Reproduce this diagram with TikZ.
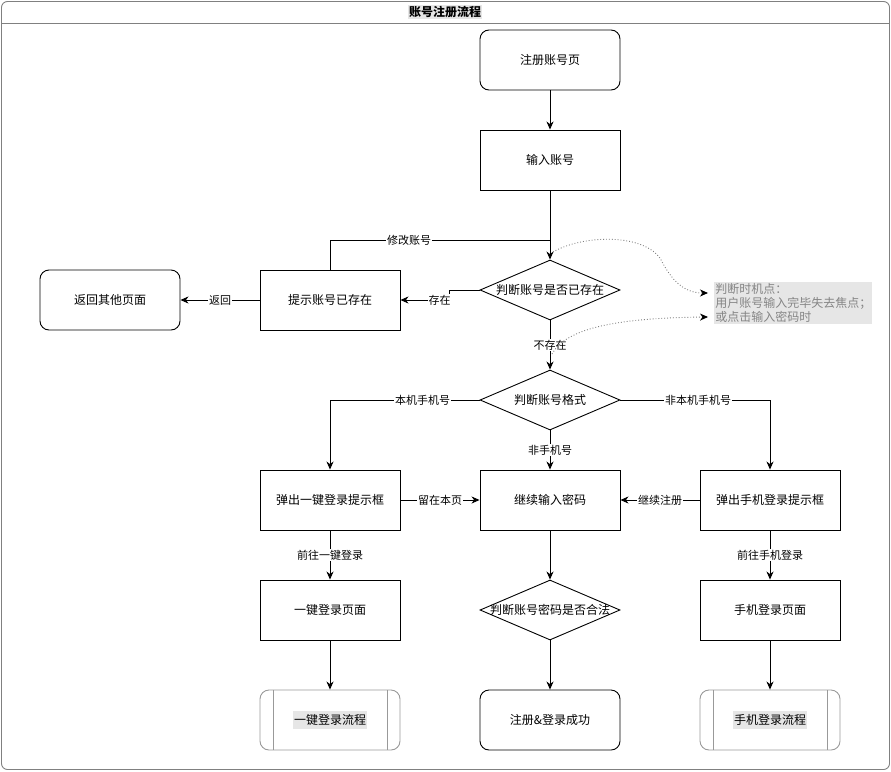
\documentclass[tikz,border=0pt]{standalone}
\usepackage{fontspec}
\usepackage{mathtools}
\setmainfont{Noto Sans CJK SC}
\usetikzlibrary{shapes.geometric,arrows.meta}
\definecolor{framegray}{HTML}{808080}
\definecolor{procgray}{HTML}{999999}
\definecolor{notebg}{HTML}{E6E6E6}
\definecolor{notetext}{HTML}{858585}
\begin{document}
\begin{tikzpicture}[x=1pt,y=-1pt,line width=0.9pt,font=\fontsize{12}{14}\selectfont,
  stepbox/.style={draw,minimum width=140pt,minimum height=60pt,inner sep=0pt},
  termbox/.style={stepbox,rounded corners=9pt},
  decision/.style={draw,diamond,aspect=2.33,minimum width=140pt,minimum height=60pt,inner sep=0pt},
  subproc/.style={stepbox,draw=procgray,rounded corners=9pt,
    path picture={\draw[procgray] ([xshift=13pt]path picture bounding box.north west) -- ([xshift=13pt]path picture bounding box.south west)
      ([xshift=-13pt]path picture bounding box.north east) -- ([xshift=-13pt]path picture bounding box.south east);}},
  arr/.style={-{Stealth[length=8pt,width=7pt,inset=2.5pt]}},
  lbl/.style={fill=white,inner sep=1pt,font=\fontsize{11}{13}\selectfont},
  hint/.style={draw=framegray,dotted,-{Stealth[length=8pt,width=7pt,inset=2.5pt,color=black,line width=0.9pt]}}]
\useasboundingbox (0,0) rectangle (891,771);
\node[draw=framegray,rounded corners=6pt,minimum width=888pt,minimum height=768pt] (pool) at (445.5,385.5) {};
\draw[framegray] (pool.west |- 0,23) -- (pool.east |- 0,23);
\node[fill=notebg,inner sep=1pt,font=\bfseries\fontsize{12}{14}\selectfont] (title) at (445,12) {账号注册流程};

\node[termbox] (reg) at (550,60) {注册账号页};
\node[stepbox] (inacc) at (550,160) {输入账号};
\node[decision] (chkexist) at (550,290) {\clap{判断账号是否已存在}};
\node[stepbox] (tipexist) at (330,300) {提示账号已存在};
\node[termbox] (back) at (110,300) {返回其他页面};
\node[decision] (chkfmt) at (550,400) {\clap{判断账号格式}};
\node[stepbox] (popone) at (330,500) {弹出一键登录提示框};
\node[stepbox] (pwd) at (550,500) {继续输入密码};
\node[stepbox] (popmob) at (770,500) {弹出手机登录提示框};
\node[stepbox] (onepage) at (330,610) {一键登录页面};
\node[decision] (chkpwd) at (550,610) {\clap{判断账号密码是否合法}};
\node[stepbox] (mobpage) at (770,610) {手机登录页面};
\node[subproc] (oneflow) at (330,720) {\colorbox{notebg}{\hspace{-2pt}一键登录流程\hspace{-2pt}}};
\node[termbox] (done) at (550,720) {注册\&登录成功};
\node[subproc] (mobflow) at (770,720) {\colorbox{notebg}{\hspace{-2pt}手机登录流程\hspace{-2pt}}};
\node[fill=notebg,text=notetext,align=left,anchor=north west,inner sep=1pt] (note) at (714,282) {判断时机点：\\用户账号输入完毕失去焦点；\\或点击输入密码时};

\coordinate (joinA) at (550,240);
\coordinate (hookA) at (553,252);
\coordinate (hookB) at (552,354);

\draw[arr] (reg) -- (inacc);
\draw[arr] (inacc) -- (chkexist);
\draw (tipexist.north) |- (joinA) node[lbl,pos=0.68] {修改账号};
\draw[arr] (chkexist.west) -- ++(-30,0) |- (tipexist.east) node[lbl,pos=0.6] {存在};
\draw[arr] (tipexist) -- node[lbl] {返回} (back);
\draw[arr] (chkexist) -- node[lbl] {不存在} (chkfmt);
\draw[arr] (chkfmt.west) -| (popone.north) node[lbl,pos=0.19] {本机手机号};
\draw[arr] (chkfmt.east) -| (popmob.north) node[lbl,pos=0.26] {非本机手机号};
\draw[arr] (chkfmt) -- node[lbl] {非手机号} (pwd);
\draw[arr] (popone) -- node[lbl] {留在本页} (pwd);
\draw[arr] (popmob) -- node[lbl] {继续注册} (pwd);
\draw[arr] (popone) -- node[lbl] {前往一键登录} (onepage);
\draw[arr] (popmob) -- node[lbl] {前往手机登录} (mobpage);
\draw[arr] (pwd) -- (chkpwd);
\draw[arr] (onepage) -- (oneflow);
\draw[arr] (chkpwd) -- (done);
\draw[arr] (mobpage) -- (mobflow);
\draw[hint] (hookA) .. controls (580,236) and (640,232) .. (660,258) .. controls (672,282) and (685,293) .. ([xshift=-6pt,yshift=10pt]note.west);
\draw[hint] (hookB) .. controls (565,330) and (610,318) .. ([xshift=-6pt,yshift=-14pt]note.west);
\end{tikzpicture}
\end{document}
